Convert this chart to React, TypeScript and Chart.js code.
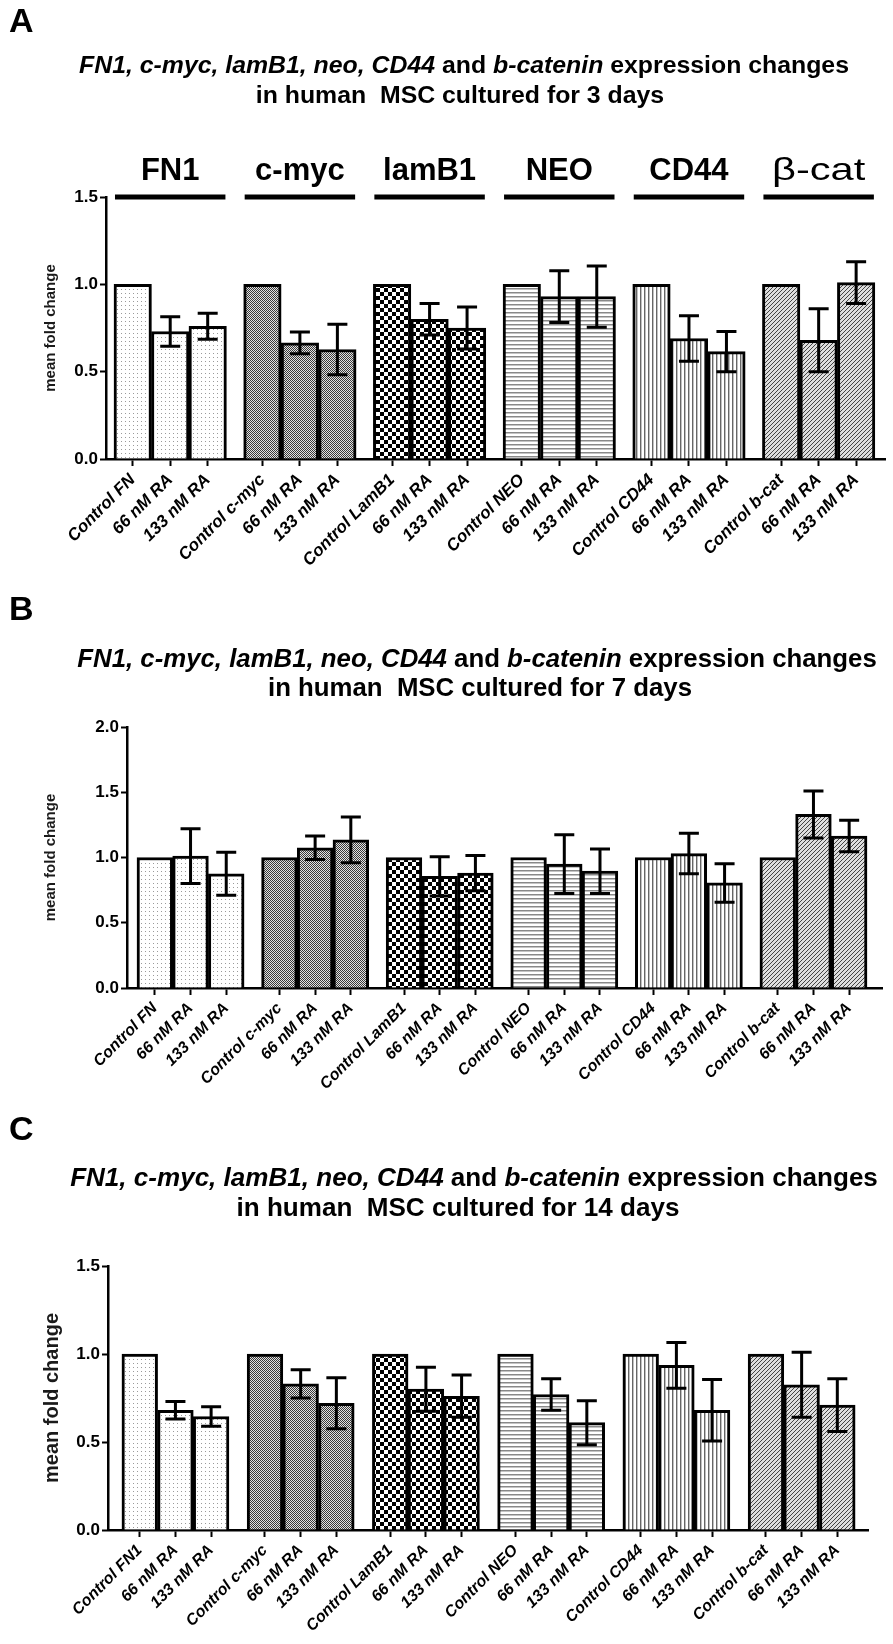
import React, { useEffect, useRef } from "react";
import { Chart, registerables } from "chart.js";
Chart.register(...registerables);

// ---------- data ----------
const GENES = ["FN1", "c-myc", "lamB1", "NEO", "CD44", "β-cat"];

const LABELS_AB = [
  "Control FN", "66 nM RA", "133 nM RA",
  "Control c-myc", "66 nM RA", "133 nM RA",
  "Control LamB1", "66 nM RA", "133 nM RA",
  "Control NEO", "66 nM RA", "133 nM RA",
  "Control CD44", "66 nM RA", "133 nM RA",
  "Control b-cat", "66 nM RA", "133 nM RA",
];
const LABELS_C = [
  "Control FN1", "66 nM RA", "133 nM RA",
  "Control c-myc", "66 nM RA", "133 nM RA",
  "Control LamB1", "66 nM RA", "133 nM RA",
  "Control NEO", "66 nM RA", "133 nM RA",
  "Control CD44", "66 nM RA", "133 nM RA",
  "Control b-cat", "66 nM RA", "133 nM RA",
];

const VALUES_A = [1, 0.73, 0.76, 1, 0.665, 0.627, 1, 0.8, 0.75, 1, 0.93, 0.93, 1, 0.69, 0.615, 1, 0.68, 1.01];
const ERRORS_A = [0, 0.085, 0.075, 0, 0.062, 0.145, 0, 0.09, 0.12, 0, 0.148, 0.175, 0, 0.13, 0.115, 0, 0.18, 0.12];
const VALUES_B = [1, 1.01, 0.875, 1, 1.075, 1.135, 1, 0.855, 0.88, 1, 0.95, 0.895, 1, 1.03, 0.805, 1, 1.33, 1.165];
const ERRORS_B = [0, 0.21, 0.165, 0, 0.09, 0.175, 0, 0.15, 0.135, 0, 0.225, 0.17, 0, 0.155, 0.147, 0, 0.18, 0.12];
const VALUES_C = [1, 0.68, 0.645, 1, 0.83, 0.72, 1, 0.8, 0.76, 1, 0.77, 0.61, 1, 0.935, 0.68, 1, 0.825, 0.71];
const ERRORS_C = [0, 0.05, 0.055, 0, 0.08, 0.145, 0, 0.125, 0.12, 0, 0.09, 0.125, 0, 0.13, 0.175, 0, 0.185, 0.15];

const Y_MAX = [1.5, 2.0, 1.5];
const DAYS = ["3", "7", "14"];
const PANEL_LETTERS = ["A", "B", "C"];
const Y_TITLE = "mean fold change";

// ---------- styling ----------
const FONT = "'Liberation Sans', Arial, Helvetica, sans-serif";
const PATTERN_KINDS = ["dots", "fine", "checker", "hlines", "vlines", "diag"];

function makePattern(kind: string): CanvasPattern | string {
  const c = document.createElement("canvas");
  const g = c.getContext("2d")!;
  const fill = (w: number, h: number, col: string) => {
    c.width = w; c.height = h; g.fillStyle = col; g.fillRect(0, 0, w, h);
  };
  const px = (x: number, y: number, w: number, h: number, col: string) => {
    g.fillStyle = col; g.fillRect(x, y, w, h);
  };
  switch (kind) {
    case "dots":
      fill(4, 4, "#ffffff"); px(1, 1, 1, 1, "#9a9a9a"); break;
    case "fine":
      fill(2, 2, "#e2e2e2"); px(0, 0, 1, 1, "#3a3a3a"); px(1, 1, 1, 1, "#3a3a3a"); break;
    case "checker":
      fill(8, 8, "#ffffff"); px(0, 0, 4, 4, "#000"); px(4, 4, 4, 4, "#000"); break;
    case "hlines":
      fill(4, 4, "#ffffff"); px(0, 0, 4, 1, "#888"); px(0, 1, 4, 1, "#c4c4c4"); break;
    case "vlines":
      fill(4, 4, "#ffffff"); px(0, 0, 1, 4, "#666"); px(1, 0, 1, 4, "#c0c0c0"); break;
    case "diag":
      fill(4, 4, "#dedede");
      for (let i = 0; i < 4; i++) px(i, 3 - i, 1, 1, "#444");
      break;
  }
  return g.createPattern(c, "repeat") || "#ccc";
}

type PanelCfg = {
  idx: number;
  top: number; height: number;
  left: number; right: number; chartTop: number; chartBottom: number;
  padLeft: number; gap: number; xMin: number; xMax: number;
  values: number[]; errors: number[]; labels: string[];
  tickFont: number; xTickFont: number; yTitleFont: number;
  titleWidth: number; line1X: number; line2X: number;
  line1Y: number; line2Y: number; letterY: number;
  groupLabels: boolean;
};

const PANELS: PanelCfg[] = [
  {
    idx: 0, top: 0, height: 590, left: 106, right: 885, chartTop: 197, chartBottom: 459,
    padLeft: 42, gap: 0.46, xMin: -0.713, xMax: 20.07,
    values: VALUES_A, errors: ERRORS_A, labels: LABELS_AB,
    tickFont: 17, xTickFont: 17, yTitleFont: 15,
    titleWidth: 770, line1X: 464, line2X: 460, line1Y: 66, line2Y: 96, letterY: 6,
    groupLabels: true,
  },
  {
    idx: 1, top: 590, height: 520, left: 127, right: 882, chartTop: 137, chartBottom: 398,
    padLeft: 42, gap: 0.49, xMin: -0.78, xMax: 20.37,
    values: VALUES_B, errors: ERRORS_B, labels: LABELS_AB,
    tickFont: 17, xTickFont: 16, yTitleFont: 15,
    titleWidth: 800, line1X: 477, line2X: 480, line1Y: 70, line2Y: 99, letterY: 4,
    groupLabels: false,
  },
  {
    idx: 2, top: 1110, height: 534, left: 108, right: 868, chartTop: 156, chartBottom: 420,
    padLeft: 40, gap: 0.51, xMin: -0.89, xMax: 20.41,
    values: VALUES_C, errors: ERRORS_C, labels: LABELS_C,
    tickFont: 17, xTickFont: 16, yTitleFont: 20,
    titleWidth: 808, line1X: 474, line2X: 458, line1Y: 69, line2Y: 99, letterY: 4,
    groupLabels: false,
  },
];

const W = 893;

function Panel({ cfg }: { cfg: PanelCfg }) {
  const ref = useRef<HTMLCanvasElement>(null);
  useEffect(() => {
    const canvas = ref.current!;
    const patterns = PATTERN_KINDS.map(makePattern);
    const xs = cfg.values.map((_, i) => Math.floor(i / 3) * (3 + cfg.gap) + (i % 3));
    const yMax = Y_MAX[cfg.idx];

    const overlay = {
      id: "overlay",
      afterDatasetsDraw(chart: any) {
        const { ctx, scales } = chart;
        const y = scales.y;
        const meta = chart.getDatasetMeta(0);
        ctx.save();
        ctx.strokeStyle = "#000";
        ctx.lineWidth = 3;
        ctx.lineCap = "butt";
        cfg.values.forEach((v, i) => {
          const e = cfg.errors[i];
          if (!e) return;
          const px = meta.data[i].x;
          const yt = y.getPixelForValue(v + e);
          const yb = y.getPixelForValue(v - e);
          const cap = 10;
          ctx.beginPath();
          ctx.moveTo(px, yt); ctx.lineTo(px, yb);
          ctx.moveTo(px - cap, yt); ctx.lineTo(px + cap, yt);
          ctx.moveTo(px - cap, yb); ctx.lineTo(px + cap, yb);
          ctx.stroke();
        });
        ctx.restore();
      },
      afterDraw(chart: any) {
        const { ctx, scales } = chart;
        ctx.save();
        ctx.fillStyle = "#000";
        // panel letter
        ctx.font = `bold 34px ${FONT}`;
        ctx.textBaseline = "top";
        ctx.textAlign = "left";
        ctx.fillText(PANEL_LETTERS[cfg.idx], 9, cfg.letterY);
        // title
        const seg1 = [
          { t: "FN1, c-myc, lamB1, neo, CD44", it: true },
          { t: " and ", it: false },
          { t: "b-catenin", it: true },
          { t: " expression changes", it: false },
        ];
        const seg2 = [{ t: `in human  MSC cultured for ${DAYS[cfg.idx]} days`, it: false }];
        const fontOf = (s: number, it: boolean) => `${it ? "italic " : ""}bold ${s}px ${FONT}`;
        const widthOf = (segs: any[], s: number) =>
          segs.reduce((acc, sg) => { ctx.font = fontOf(s, sg.it); return acc + ctx.measureText(sg.t).width; }, 0);
        const size = 20 * cfg.titleWidth / widthOf(seg1, 20);
        const drawLine = (segs: any[], cx: number, cy: number) => {
          const tw = widthOf(segs, size);
          let x = cx - tw / 2;
          ctx.textBaseline = "middle";
          ctx.textAlign = "left";
          segs.forEach((sg) => {
            ctx.font = fontOf(size, sg.it);
            ctx.fillText(sg.t, x, cy);
            x += ctx.measureText(sg.t).width;
          });
        };
        drawLine(seg1, cfg.line1X, cfg.line1Y);
        drawLine(seg2, cfg.line2X, cfg.line2Y);

        if (cfg.groupLabels) {
          const x = scales.x;
          const yTop = scales.y.getPixelForValue(yMax);
          GENES.forEach((gName, g) => {
            const x1 = x.getPixelForValue(xs[g * 3] - 0.5) + 1;
            const x2 = x.getPixelForValue(xs[g * 3 + 2] + 0.5) - 1;
            ctx.fillRect(x1, yTop - 2.5, x2 - x1, 5);
            const cx = (x1 + x2) / 2;
            const cy = yTop - 26;
            ctx.textAlign = "center";
            ctx.textBaseline = "middle";
            if (gName.startsWith("β")) {
              ctx.save();
              ctx.translate(cx, cy);
              ctx.scale(1.3, 1);
              ctx.font = `32px ${FONT}`;
              ctx.fillText(gName, 0, 0);
              ctx.restore();
            } else {
              ctx.font = `bold 31px ${FONT}`;
              ctx.fillText(gName, cx, cy);
            }
          });
        }
        ctx.restore();
      },
    };

    const chart = new Chart(canvas, {
      type: "bar",
      data: {
        datasets: [
          {
            data: cfg.values.map((v, i) => ({ x: xs[i], y: v })) as any,
            backgroundColor: cfg.values.map((_, i) => patterns[Math.floor(i / 3)]) as any,
            borderColor: "#000",
            borderWidth: 3,
            barPercentage: 1,
            categoryPercentage: 1,
          },
        ],
      },
      options: {
        animation: false,
        responsive: false,
        maintainAspectRatio: false,
        layout: { padding: { top: cfg.chartTop, left: cfg.padLeft, right: W - cfg.right, bottom: 0 } },
        plugins: { legend: { display: false }, tooltip: { enabled: false }, title: { display: false } },
        scales: {
          x: {
            type: "linear",
            min: cfg.xMin,
            max: cfg.xMax,
            offset: false,
            afterBuildTicks: (s: any) => { s.ticks = xs.map((v) => ({ value: v })); },
            afterFit: (s: any) => { s.height = cfg.height - cfg.chartBottom; },
            ticks: {
              autoSkip: false,
              minRotation: 45,
              maxRotation: 45,
              padding: 4,
              color: "#000",
              font: { family: FONT, size: cfg.xTickFont, weight: "bold", style: "italic" },
              callback: (_v: any, i: number) => cfg.labels[i],
            },
            grid: { display: true, drawOnChartArea: false, drawTicks: true, tickLength: 7, tickWidth: 2, color: "#000", offset: false },
            border: { display: true, color: "#000", width: 2.5 },
          } as any,
          y: {
            min: 0,
            max: yMax,
            afterFit: (s: any) => { s.width = cfg.left - cfg.padLeft; },
            ticks: {
              stepSize: 0.5,
              padding: 2,
              color: "#000",
              font: { family: FONT, size: cfg.tickFont, weight: "bold" },
              callback: (v: any) => Number(v).toFixed(1),
            },
            grid: { drawOnChartArea: false, drawTicks: true, tickLength: 6, tickWidth: 2, color: "#000" },
            border: { display: true, color: "#000", width: 2.5 },
            title: {
              display: true,
              text: Y_TITLE,
              color: "#1a1a1a",
              padding: 0,
              font: { family: FONT, size: cfg.yTitleFont, weight: "bold" },
            },
          } as any,
        },
      },
      plugins: [overlay as any],
    });
    return () => chart.destroy();
  }, [cfg]);
  return (
    <canvas
      ref={ref}
      width={W}
      height={cfg.height}
      style={{ position: "absolute", left: 0, top: cfg.top, width: W, height: cfg.height, display: "block" }}
    />
  );
}

export default function App() {
  return (
    <div style={{ position: "absolute", left: 0, top: 0, width: W, height: 1644, background: "#fff", overflow: "hidden" }}>
      {PANELS.map((p) => (
        <Panel key={p.idx} cfg={p} />
      ))}
    </div>
  );
}
